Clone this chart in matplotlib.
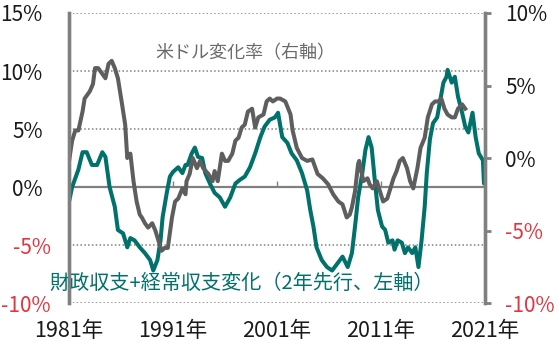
import numpy as np
import matplotlib.pyplot as plt
import matplotlib.transforms as mtransforms

plt.rcParams['font.family'] = ['Noto Sans CJK JP', 'DejaVu Sans']

# 財政収支+経常収支変化(2年先行、左軸) [%]
yr_bal = [1980.9, 1981.3, 1981.9, 1982.3, 1982.7, 1983.2, 1983.7, 1984.2, 1984.5, 1984.9,
          1985.4, 1985.7, 1986.2, 1986.6, 1986.9, 1987.3, 1987.8, 1988.3, 1988.8, 1989.1,
          1989.5, 1989.8, 1990.0, 1990.4, 1990.7, 1991.0, 1991.5, 1991.9, 1992.2, 1992.4,
          1992.8, 1993.1, 1993.4, 1993.8, 1994.1, 1994.6, 1995.0, 1995.5, 1996.0, 1996.5,
          1997.0, 1997.4, 1997.9, 1998.4, 1998.9, 1999.4, 1999.8, 2000.3, 2000.8, 2001.1,
          2001.5, 2002.0, 2002.4, 2002.9, 2003.4, 2003.9, 2004.2, 2004.5, 2004.8, 2005.3,
          2005.8, 2006.3, 2006.8, 2007.3, 2007.8, 2008.2, 2008.5, 2008.8, 2009.2, 2009.5,
          2009.8, 2010.1, 2010.4, 2010.7, 2011.1, 2011.4, 2011.7, 2012.1, 2012.3, 2012.6,
          2013.0, 2013.3, 2013.6, 2014.0, 2014.3, 2014.6, 2014.9, 2015.2, 2015.4, 2015.7,
          2016.0, 2016.4, 2016.7, 2017.0, 2017.3, 2017.4, 2017.8, 2018.1, 2018.4, 2018.8,
          2019.1, 2019.4, 2019.8, 2020.1, 2020.4, 2020.8, 2020.9, 2021.0]
bal = [-1.7, 0.0, 1.5, 3.0, 3.0, 1.9, 1.9, 3.0, 2.6, 0.0,
       -1.7, -3.7, -4.0, -5.2, -4.4, -4.6, -5.2, -5.7, -6.3, -7.2,
       -6.3, -4.6, -2.6, -0.5, 0.9, 1.3, 1.7, 1.2, 1.9, 1.9,
       2.9, 3.4, 2.6, 2.5, 1.2, 0.2, -0.5, -0.9, -1.7, -0.9,
       0.3, 0.6, 0.9, 1.7, 2.9, 4.3, 5.2, 5.8, 6.0, 6.4,
       4.3, 3.8, 2.9, 2.3, 1.2, -0.3, -2.0, -3.4, -5.2, -6.3,
       -6.9, -7.2, -6.6, -6.0, -6.9, -5.7, -3.4, -0.9, 1.2, 3.2,
       4.3, 3.4, 0.6, -2.0, -3.4, -3.7, -4.8, -4.6, -5.4, -4.6,
       -4.8, -5.7, -5.2, -5.7, -5.2, -6.9, -4.6, -1.7, 1.2, 4.1,
       5.5, 6.0, 7.5, 9.0, 9.5, 10.1, 9.0, 9.5, 7.8, 6.4,
       5.2, 4.7, 6.4, 4.3, 2.9, 2.3, 0.3, 0.9]

# 米ドル変化率(右軸) [%]
yr_usd = [1980.9, 1981.3, 1981.6, 1981.9, 1982.3, 1982.5, 1983.0, 1983.3, 1983.5, 1983.8,
          1984.2, 1984.5, 1984.8, 1985.1, 1985.4, 1985.7, 1986.1, 1986.4, 1986.6, 1986.9,
          1987.2, 1987.5, 1987.8, 1988.0, 1988.3, 1988.6, 1989.0, 1989.3, 1989.6, 1989.9,
          1990.2, 1990.5, 1990.9, 1991.2, 1991.5, 1991.9, 1992.2, 1992.3, 1992.6, 1992.9,
          1993.3, 1993.6, 1993.9, 1994.4, 1994.8, 1995.0, 1995.3, 1995.7, 1996.0, 1996.3,
          1996.7, 1997.0, 1997.3, 1997.6, 1997.9, 1998.2, 1998.6, 1998.9, 1999.2, 1999.7,
          2000.0, 2000.3, 2000.6, 2001.0, 2001.3, 2001.8, 2002.3, 2002.5, 2002.9, 2003.4,
          2003.9, 2004.4, 2004.7, 2004.9, 2005.4, 2005.9, 2006.4, 2006.9, 2007.3, 2007.7,
          2008.0, 2008.2, 2008.5, 2008.8, 2008.9, 2009.3, 2009.7, 2009.9, 2010.2, 2010.6,
          2010.9, 2011.2, 2011.6, 2011.9, 2012.2, 2012.5, 2012.8, 2013.1, 2013.5, 2013.8,
          2014.1, 2014.5, 2014.8, 2015.2, 2015.5, 2015.9, 2016.2, 2016.5, 2016.8, 2017.1,
          2017.4, 2017.8, 2018.1, 2018.4, 2018.8, 2019.1]
usd = [-0.7, 1.2, 1.9, 1.9, 3.2, 4.1, 4.6, 5.1, 6.2, 6.2,
       5.8, 5.5, 6.5, 6.7, 6.2, 5.5, 3.7, 2.3, 0.0, 0.3,
       -1.6, -3.0, -3.9, -4.1, -4.5, -4.8, -4.5, -5.0, -5.7, -6.4,
       -6.2, -6.2, -4.1, -3.0, -2.8, -2.1, -2.5, -1.6, -1.1, 0.0,
       -0.7, -0.2, -0.7, -1.1, -1.6, -0.9, -1.6, 0.3, -0.2, -0.2,
       0.3, 1.2, 1.4, 2.1, 2.3, 3.2, 3.4, 2.1, 2.8, 3.0,
       3.9, 4.1, 3.9, 4.1, 4.1, 3.9, 3.0, 1.9, 0.7, 0.0,
       -0.2, -0.1, -0.7, -1.1, -1.4, -1.8, -2.5, -3.0, -3.2, -4.1,
       -3.9, -3.4, -2.3, -0.4, -0.2, -1.6, -1.4, -1.8, -2.1, -1.6,
       -2.3, -3.0, -2.8, -2.1, -1.4, -0.9, -0.2, 0.0, -0.7, -1.6,
       -2.1, -0.7, 0.7, 1.4, 2.8, 3.7, 3.9, 3.9, 4.1, 3.4,
       3.0, 2.8, 2.8, 3.4, 3.7, 3.4]

left_ticks = [15, 10, 5, 0, -5, -10]
right_ticks = [10, 5, 0, -5, -10]
year_ticks = [1981, 1991, 2001, 2011, 2021]

teal = '#00716b'
gray = '#5e5e5e'
red = '#e3343f'
spine_gray = '#808080'

fig = plt.figure(figsize=(5.58, 3.43), dpi=100)
ax = fig.add_axes([0.1237, 0.1166, 0.7455, 0.8455])
ax2 = ax.twinx()

ax.plot(yr_bal, bal, color=teal, lw=2.9, solid_joinstyle='round')
ax2.plot(yr_usd, usd, color=gray, lw=2.9, solid_joinstyle='round')

ax.set_xlim(1981, 2021)
ax.set_ylim(-10, 15)
ax2.set_ylim(-10, 10)

# dotted grid + zero line
for v in left_ticks:
    if v == 0:
        ax.axhline(v, color=spine_gray, lw=1.6, zorder=1)
    else:
        ax.axhline(v, color=spine_gray, lw=1.1, ls=(0, (1, 1.5)), zorder=1)

for a in (ax, ax2):
    a.spines['top'].set_visible(False)
    a.spines['bottom'].set_visible(False)
    a.spines['left'].set_color(spine_gray)
    a.spines['right'].set_color(spine_gray)
    a.spines['left'].set_linewidth(2.4)
    a.spines['right'].set_linewidth(2.4)


def pct(v):
    return f'{v}%' if v >= 0 else f'-{-v}%'


ax.set_yticks(left_ticks)
ax.set_yticklabels([pct(v) for v in left_ticks])
ax.tick_params(axis='y', length=0, pad=19, labelsize=15, labelcolor='#1a1a1a')
shift = mtransforms.ScaledTranslation(8 / 100, 0, fig.dpi_scale_trans)
for lab, v in zip(ax.get_yticklabels(), left_ticks):
    if v < 0:
        lab.set_color(red)
        lab.set_transform(lab.get_transform() + shift)

ax2.set_yticks(right_ticks)
ax2.set_yticklabels([pct(v) for v in right_ticks])
ax2.tick_params(axis='y', length=4.5, width=2, color=spine_gray, pad=10,
                labelsize=15, labelcolor='#1a1a1a')
for lab, v in zip(ax2.get_yticklabels(), right_ticks):
    if v < 0:
        lab.set_color(red)

# small ticks on zero line, labels at bottom
ax.set_xticks(year_ticks)
ax.tick_params(axis='x', labelbottom=False)
ax.spines['bottom'].set_position(('data', 0))
ax.spines['bottom'].set_visible(True)
ax.spines['bottom'].set_linewidth(0)
ax.tick_params(axis='x', direction='in', length=4, width=1, color=spine_gray)

sec = ax.secondary_xaxis(0)
sec.set_xticks(year_ticks)
sec.set_xticklabels([f'{y}年' for y in year_ticks])
sec.spines['bottom'].set_visible(False)
sec.tick_params(length=0, pad=12, labelsize=15.5, labelcolor='#1a1a1a')

ax.text(0.423, 0.862, '米ドル変化率（右軸）', transform=ax.transAxes,
        ha='center', va='center', fontsize=13, color='#6a6a6a')
ax.text(0.415, 0.069, '財政収支+経常収支変化（2年先行、左軸）', transform=ax.transAxes,
        ha='center', va='center', fontsize=14.5, color=teal)

fig.savefig('out.png', dpi=100)
